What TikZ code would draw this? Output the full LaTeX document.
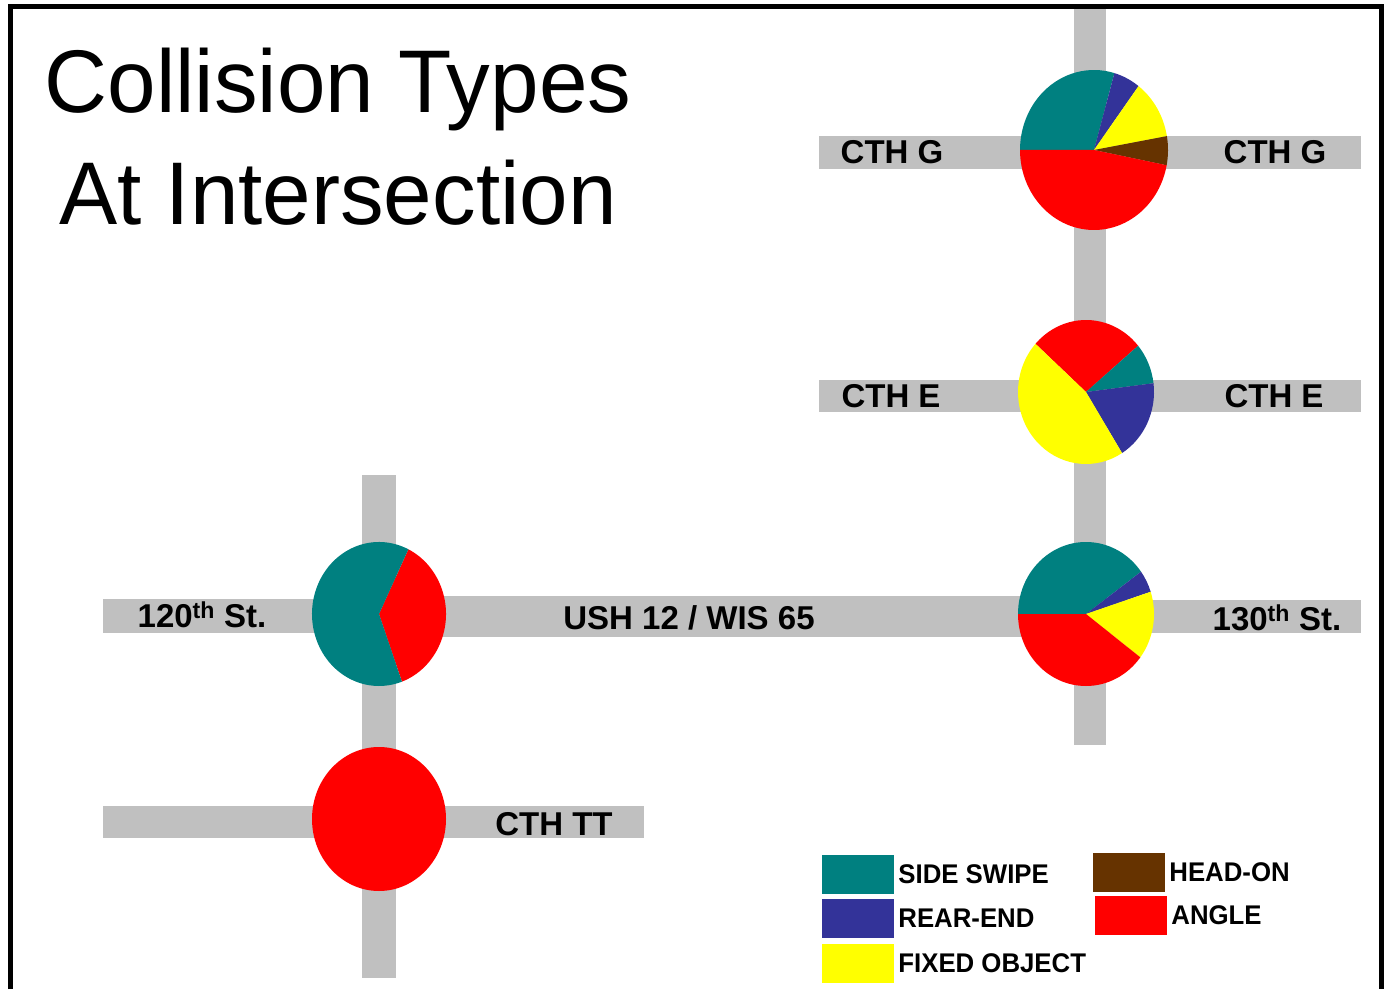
\documentclass[tikz,border=0pt]{standalone}
\usepackage{fontspec}
\setmainfont{Liberation Sans}
\usetikzlibrary{positioning}
\definecolor{cSwipe}{HTML}{008080}
\definecolor{cRear}{HTML}{333399}
\definecolor{cFixed}{HTML}{FFFF00}
\definecolor{cHead}{HTML}{663300}
\definecolor{cAngle}{HTML}{FF0000}
\definecolor{roadgray}{HTML}{C0C0C0}

\begin{document}
\begin{tikzpicture}[
  x=1pt, y=1pt,
  road/.style={fill=roadgray, draw=none},
  rdlab/.style={font=\fontsize{33}{36}\selectfont\bfseries, inner sep=0pt},
  ttl/.style={font=\fontsize{89}{110}\selectfont, inner sep=0pt, anchor=base,
              xscale=0.98, transform shape},
  key/.style={minimum width=72pt, minimum height=39pt, inner sep=0pt, draw=none},
  keylab/.style={font=\fontsize{27}{30}\selectfont\bfseries, inner sep=0pt,
                 right=4pt of #1, xscale=0.955, transform shape},
]
\useasboundingbox (0,0) rectangle (1386,989);

% ---------- roads ----------
\fill[road] (1074,244) rectangle (1106,980);  % north-south, east
\fill[road] (819,820) rectangle (1361,853);   % CTH G
\fill[road] (819,577) rectangle (1361,609);   % CTH E
\fill[road] (1086,356) rectangle (1361,389);  % 130th
\fill[road] (379,352) rectangle (1086,393);   % USH 12
\fill[road] (103,356) rectangle (379,390);    % 120th
\fill[road] (362,11) rectangle (396,514);     % north-south, west
\fill[road] (103,151) rectangle (644,183);    % CTH TT

% ---------- pies ----------
\coordinate (pieG) at (1094,839);
\coordinate (pieE) at (1086,597);
\coordinate (pieO) at (1086,375);
\coordinate (pieW) at (379,375);
\coordinate (pieT) at (379,170);

\foreach \a/\b/\c in {74/180/cSwipe, 53/74/cRear, 10/53/cFixed,
                      -11/10/cHead, 180/349/cAngle} {
  \fill[\c] (pieG) -- ++(\a:74 and 80)
    arc[start angle=\a, end angle=\b, x radius=74, y radius=80] -- cycle;
}
\foreach \a/\b/\c in {40/138/cAngle, 7/40/cSwipe, -58/7/cRear,
                      138/302/cFixed} {
  \fill[\c] (pieE) -- ++(\a:68 and 72)
    arc[start angle=\a, end angle=\b, x radius=68, y radius=72] -- cycle;
}
\foreach \a/\b/\c in {36/180/cSwipe, 18/36/cRear, -37/18/cFixed,
                      180/323/cAngle} {
  \fill[\c] (pieO) -- ++(\a:68 and 72)
    arc[start angle=\a, end angle=\b, x radius=68, y radius=72] -- cycle;
}
\foreach \a/\b/\c in {-70/64/cAngle, 64/290/cSwipe} {
  \fill[\c] (pieW) -- ++(\a:67 and 72)
    arc[start angle=\a, end angle=\b, x radius=67, y radius=72] -- cycle;
}
\fill[cAngle] (pieT) ellipse[x radius=67, y radius=72];

% ---------- road labels ----------
\node[rdlab] (gWest) at (892,837) {CTH G};
\node[rdlab] (gEast) at (1275,837) {CTH G};
\node[rdlab] (eWest) at (891,593) {CTH E};
\node[rdlab] (eEast) at (1274,593) {CTH E};
\node[rdlab] (st120) at (202,374) {120\textsuperscript{th} St.};
\node[rdlab] (ush) at (689,371) {USH 12 / WIS 65};
\node[rdlab] (st130) at (1277,371) {130\textsuperscript{th} St.};
\node[rdlab] (tt) at (554,165) {CTH TT};

% ---------- title ----------
\node[ttl] (title1) at (338,876) {Collision Types};
\node[ttl] (title2) at (338,764) {At Intersection};

% ---------- legend ----------
\node[key, fill=cSwipe] (kSwipe) at (858,115) {};
\node[key, fill=cRear] (kRear) at (858,70.5) {};
\node[key, fill=cFixed] (kFixed) at (858,25.5) {};
\node[key, fill=cHead] (kHead) at (1129,116.5) {};
\node[key, fill=cAngle] (kAngle) at (1131,73.5) {};
\node[keylab=kSwipe] (lSwipe) {SIDE SWIPE};
\node[keylab=kRear] (lRear) {REAR-END};
\node[keylab=kFixed] (lFixed) {FIXED OBJECT};
\node[keylab=kHead] (lHead) {HEAD-ON};
\node[keylab=kAngle] (lAngle) {ANGLE};

% ---------- frame ----------
\draw[line width=5pt] (10.5,0) -- (10.5,982.5) -- (1381.5,982.5) -- (1381.5,0);
\end{tikzpicture}
\end{document}
